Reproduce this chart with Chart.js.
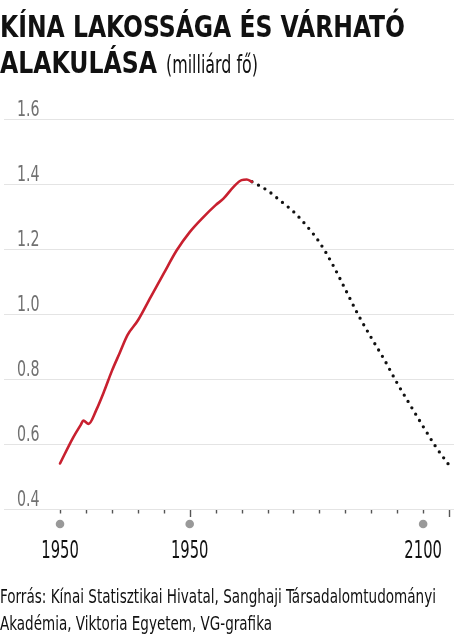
<!DOCTYPE html>
<html>
<head>
<meta charset="utf-8">
<script src="https://cdn.jsdelivr.net/npm/chart.js@4"></script>
<style>
  html, body { margin: 0; padding: 0; background: #fff; }
  body { width: 474px; height: 644px; position: relative; overflow: hidden; }
  .txt { position: absolute; white-space: nowrap; font-family: "DejaVu Sans Condensed", "DejaVu Sans", sans-serif; color: #111; transform-origin: 0 0; }
  .big { font-weight: bold; font-size: 30px; line-height: 30px; }
  .unit { font-size: 24px; line-height: 24px; }
  .foot { font-size: 20px; line-height: 20px; }
  #wrap { position: absolute; left: 0; top: 0; width: 474px; height: 644px; }
</style>
</head>
<body>
<div id="wrap"><canvas id="chart"></canvas></div>
<div class="txt big" style="left:0;top:11.6px" data-w="405">KÍNA LAKOSSÁGA ÉS VÁRHATÓ</div>
<div class="txt big" style="left:0;top:47.6px" data-w="157">ALAKULÁSA</div>
<div class="txt unit" style="left:166px;top:52.7px" data-w="92">(milliárd fő)</div>
<div class="txt foot" style="left:0;top:586px" data-w="436">Forrás: Kínai Statisztikai Hivatal, Sanghaji Társadalomtudományi</div>
<div class="txt foot" style="left:0;top:613px" data-w="272">Akadémia, Viktoria Egyetem, VG-grafika</div>
<script>
// historical population (billion)
const histYears = [1950, 1955, 1958, 1959, 1961, 1964, 1967, 1970, 1973, 1976, 1980, 1985, 1990, 1995, 2000, 2005, 2010, 2013, 2017, 2020, 2022, 2024];
const histValues = [0.54, 0.619, 0.659, 0.672, 0.662, 0.705, 0.762, 0.825, 0.88, 0.935, 0.98, 1.053, 1.125, 1.196, 1.252, 1.296, 1.335, 1.355, 1.392, 1.412, 1.414, 1.407];

// projection
const projYears = [2024, 2030, 2035, 2040, 2045, 2050, 2055, 2060, 2065, 2070, 2075, 2080, 2085, 2090, 2095, 2100];
const projValues = [1.407, 1.38, 1.348, 1.315, 1.272, 1.221, 1.154, 1.076, 0.997, 0.927, 0.86, 0.787, 0.72, 0.654, 0.59, 0.535];

// x axis labels (as printed on the original)
const labelYears = [1950, 2000, 2090];
const labelTexts = ['1950', '1950', '2100'];
const majorYears = [2000, 2100];
const yTicks = [0.4, 0.6, 0.8, 1.0, 1.2, 1.4, 1.6];

const FONT = '"DejaVu Sans Condensed", "DejaVu Sans", sans-serif';
const toPoints = (xs, ys) => xs.map((x, i) => ({ x: x, y: ys[i] }));

// squeeze html text to the widths of the original condensed font
document.querySelectorAll('[data-w]').forEach(el => {
    const w = el.getBoundingClientRect().width;
    el.style.transform = 'scaleX(' + (parseFloat(el.dataset.w) / w) + ')';
});

// condensed text on the canvas
function squeezedText(ctx, text, x, y, size, sx, align) {
    ctx.save();
    ctx.font = size + 'px ' + FONT;
    ctx.textBaseline = 'alphabetic';
    const w = ctx.measureText(text).width * sx;
    const left = align === 'center' ? x - w / 2 : x;
    ctx.translate(left, y);
    ctx.scale(sx, 1);
    ctx.fillText(text, 0, 0);
    ctx.restore();
}

// tick marks, grey dots and labels for both axes
const axisMarks = {
    id: 'axisMarks',
    afterDraw(chart) {
        const ctx = chart.ctx;
        const x = chart.scales.x;
        const y = chart.scales.y;
        const bottom = chart.chartArea.bottom;
        ctx.save();
        ctx.strokeStyle = '#555';
        ctx.lineWidth = 1.4;
        for (let yr = 1950; yr <= 2100; yr += 10) {
            const px = Math.round(x.getPixelForValue(yr)) + 0.5;
            const len = majorYears.includes(yr) ? 7 : 3.5;
            ctx.beginPath();
            ctx.moveTo(px, bottom + 1);
            ctx.lineTo(px, bottom + 1 + len);
            ctx.stroke();
        }
        ctx.fillStyle = '#999';
        x.ticks.forEach(t => {
            ctx.beginPath();
            ctx.arc(x.getPixelForValue(t.value), bottom + 15, 4.3, 0, Math.PI * 2);
            ctx.fill();
        });
        ctx.fillStyle = '#111';
        x.ticks.forEach(t => {
            squeezedText(ctx, t.label, x.getPixelForValue(t.value), bottom + 49, 24.5, 0.67, 'center');
        });
        ctx.fillStyle = '#707070';
        y.ticks.forEach(t => {
            squeezedText(ctx, t.label, 17, y.getPixelForValue(t.value) - 3, 20.5, 0.77, 'left');
        });
        ctx.restore();
    }
};

new Chart(document.getElementById('chart'), {
    type: 'line',
    data: {
        datasets: [
            {
                label: 'Népesség',
                data: toPoints(histYears, histValues),
                borderColor: '#c8202f',
                borderWidth: 2.6,
                pointRadius: 0,
                cubicInterpolationMode: 'monotone',
                borderCapStyle: 'round'
            },
            {
                label: 'Előrejelzés',
                data: toPoints(projYears, projValues),
                borderColor: '#111',
                borderWidth: 3.3,
                borderDash: [0, 7.4],
                borderCapStyle: 'round',
                pointRadius: 0,
                cubicInterpolationMode: 'monotone'
            }
        ]
    },
    options: {
        responsive: true,
        maintainAspectRatio: false,
        animation: false,
        layout: { padding: { left: 4, right: 20, top: 119, bottom: 95 } },
        plugins: { legend: { display: false }, tooltip: { enabled: false } },
        scales: {
            x: {
                type: 'linear',
                min: 1928.4,
                max: 2101.9,
                afterBuildTicks(scale) { scale.ticks = labelYears.map(v => ({ value: v })); },
                afterFit(scale) { scale.height = 40; },
                ticks: {
                    display: false,
                    callback: (v) => labelTexts[labelYears.indexOf(v)] || ''
                },
                grid: { display: false },
                border: { display: false }
            },
            y: {
                min: 0.4,
                max: 1.6,
                afterBuildTicks(scale) { scale.ticks = yTicks.map(v => ({ value: v })); },
                afterFit(scale) { scale.width = 0; },
                ticks: {
                    display: false,
                    callback: (v) => v.toFixed(1)
                },
                grid: { color: '#e4e4e4', lineWidth: 1, drawTicks: false },
                border: { display: false }
            }
        }
    },
    plugins: [axisMarks]
});
</script>
</body>
</html>
